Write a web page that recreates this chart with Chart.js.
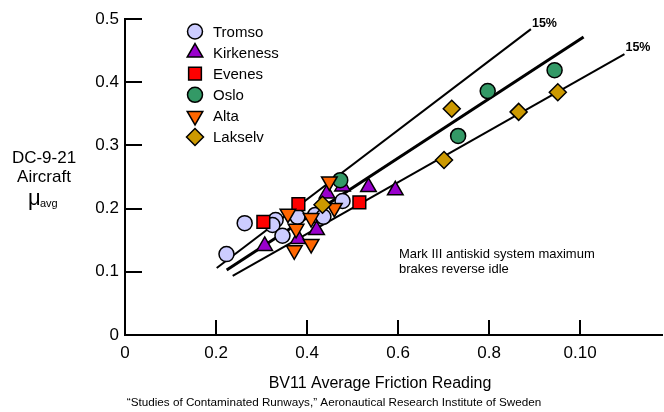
<!DOCTYPE html>
<html>
<head>
<meta charset="utf-8">
<script src="https://cdn.jsdelivr.net/npm/chart.js@4.4.1/dist/chart.umd.min.js"></script>
<style>
  html, body { margin: 0; padding: 0; background: #fff; }
</style>
</head>
<body>
<canvas id="chart" width="664" height="412"></canvas>
<script>
// values: [BV11 reading, mu avg]
const tromso = [[0.223, 0.128], [0.263, 0.177], [0.331, 0.182], [0.324, 0.174], [0.346, 0.157],
  [0.379, 0.187], [0.418, 0.190], [0.436, 0.187], [0.478, 0.212]];
const kirkeness = [[0.307, 0.141], [0.381, 0.152], [0.421, 0.166], [0.444, 0.224], [0.478, 0.235],
  [0.535, 0.234], [0.594, 0.229]];
const evenes = [[0.304, 0.179], [0.381, 0.207], [0.515, 0.210]];
const oslo = [[0.473, 0.245], [0.732, 0.315], [0.797, 0.386], [0.944, 0.419]];
const alta = [[0.358, 0.192], [0.376, 0.168], [0.409, 0.185], [0.372, 0.134], [0.409, 0.144],
  [0.449, 0.243], [0.460, 0.201]];
const lakselv = [[0.434, 0.206], [0.701, 0.277], [0.718, 0.358], [0.865, 0.353], [0.951, 0.384]];

// fitted line and the two 15% bands (end points)
const bandUpper = [[0.2015, 0.106], [0.892, 0.484]];
const fitMean = [[0.2234, 0.103], [1.0077, 0.4715]];
const bandLower = [[0.2366, 0.0934], [1.0975, 0.4446]];

const xTicks = [0, 0.2, 0.4, 0.6, 0.8, 1.0];
const xTickLabels = ['0', '0.2', '0.4', '0.6', '0.8', '0.10'];
const yTicks = [0, 0.1, 0.2, 0.3, 0.4, 0.5];
const yTickLabels = ['0', '0.1', '0.2', '0.3', '0.4', '0.5'];

const noteLines = ['Mark III antiskid system maximum', 'brakes reverse idle'];
const noteAt = [0.602, 0.127];
const source = '\u201cStudies of Contaminated Runways,\u201d Aeronautical Research Institute of Sweden';

const pts = arr => arr.map(p => ({x: p[0], y: p[1]}));

const series = [
  {label: 'Tromso', data: tromso, color: '#ccccff', style: 'circle', radius: 7.5, rotation: 0},
  {label: 'Kirkeness', data: kirkeness, color: '#9900cc', style: 'triangle', radius: 9, rotation: 0},
  {label: 'Evenes', data: evenes, color: '#ff0000', style: 'rect', radius: 9, rotation: 0},
  {label: 'Oslo', data: oslo, color: '#339966', style: 'circle', radius: 7.5, rotation: 0},
  {label: 'Alta', data: alta, color: '#ff6600', style: 'triangle', radius: 9, rotation: 180},
  {label: 'Lakselv', data: lakselv, color: '#cc9900', style: 'rectRot', radius: 8.5, rotation: 0},
];

const scatterSets = series.map((s, i) => ({
  label: s.label,
  data: pts(s.data),
  backgroundColor: s.color,
  borderColor: '#000',
  borderWidth: 1.5,
  pointStyle: s.style,
  pointRadius: s.radius,
  rotation: s.rotation,
  order: series.length - i,
}));

const lineSet = (label, data, w) => ({
  label: label,
  data: pts(data),
  showLine: true,
  borderColor: '#000',
  borderWidth: w,
  pointRadius: 0,
  order: 20,
});

const FONT = 'Arial, "Liberation Sans", sans-serif';

const decor = {
  id: 'decor',
  afterDraw(chart) {
    const ctx = chart.ctx;
    const xs = chart.scales.x, ys = chart.scales.y;
    const area = chart.chartArea;
    ctx.save();
    // inward tick marks
    ctx.strokeStyle = '#000';
    ctx.lineWidth = 2;
    ctx.beginPath();
    xTicks.slice(1).forEach(v => {
      const px = Math.round(xs.getPixelForValue(v));
      ctx.moveTo(px, area.bottom);
      ctx.lineTo(px, area.bottom - 15);
    });
    yTicks.slice(1).forEach(v => {
      const py = Math.round(ys.getPixelForValue(v));
      ctx.moveTo(area.left, py);
      ctx.lineTo(area.left + 17, py);
    });
    ctx.stroke();

    // legend
    series.forEach((s, i) => {
      const lx = 195, ly = 31.5 + i * 21.1;
      ctx.fillStyle = s.color;
      ctx.strokeStyle = '#000';
      ctx.lineWidth = 1.5;
      Chart.helpers.drawPoint(ctx, {pointStyle: s.style, radius: s.radius, rotation: s.rotation, borderWidth: 1.5}, lx, ly);
      ctx.fillStyle = '#000';
      ctx.font = '15px ' + FONT;
      ctx.textAlign = 'left';
      ctx.textBaseline = 'middle';
      ctx.fillText(s.label, 213, ly + 1);
    });

    // 15% labels at the band ends
    ctx.font = 'bold 12.5px ' + FONT;
    ctx.textBaseline = 'middle';
    [bandUpper, bandLower].forEach(b => {
      const e = b[b.length - 1];
      ctx.fillText('15%', xs.getPixelForValue(e[0]) + 1, ys.getPixelForValue(e[1]) - 6);
    });

    // note
    ctx.font = '13px ' + FONT;
    noteLines.forEach((t, i) => {
      ctx.fillText(t, xs.getPixelForValue(noteAt[0]), ys.getPixelForValue(noteAt[1]) + i * 15);
    });

    // y axis title
    ctx.textAlign = 'center';
    ctx.font = '17px ' + FONT;
    ctx.fillText('DC-9-21', 44, 158);
    ctx.fillText('Aircraft', 44, 177);
    ctx.textAlign = 'left';
    ctx.textBaseline = 'alphabetic';
    ctx.font = '22px ' + FONT;
    ctx.fillText('\u03bc', 28, 205);
    ctx.font = '11px ' + FONT;
    ctx.fillText('avg', 40, 207);

    // x axis title and source
    ctx.textAlign = 'center';
    ctx.textBaseline = 'middle';
    ctx.font = '16px ' + FONT;
    ctx.fillText('BV11 Average Friction Reading', 380, 384);
    ctx.font = '11.7px ' + FONT;
    ctx.fillText(source, 334, 403);
    ctx.restore();
  }
};

new Chart(document.getElementById('chart'), {
  type: 'scatter',
  data: {
    datasets: scatterSets.concat([
      lineSet('upper 15%', bandUpper, 2),
      lineSet('fit', fitMean, 3),
      lineSet('lower 15%', bandLower, 2),
    ])
  },
  options: {
    responsive: false,
    animation: false,
    layout: {autoPadding: false, padding: {top: 19, right: 2, left: 0, bottom: 0}},
    plugins: {legend: {display: false}, tooltip: {enabled: false}},
    scales: {
      x: {
        type: 'linear',
        min: 0,
        max: 1.18,
        afterBuildTicks: s => { s.ticks = xTicks.map(v => ({value: v})); },
        afterFit: s => { s.height = 77; s.paddingLeft = 0; s.paddingRight = 0; },
        grid: {display: false, drawTicks: false},
        border: {display: true, color: '#000', width: 2},
        ticks: {
          color: '#000',
          font: {family: FONT, size: 17},
          padding: 8,
          maxRotation: 0,
          callback: (v, i) => xTickLabels[i],
        },
      },
      y: {
        type: 'linear',
        min: 0,
        max: 0.5,
        afterBuildTicks: s => { s.ticks = yTicks.map(v => ({value: v})); },
        afterFit: s => { s.width = 125; s.paddingTop = 0; s.paddingBottom = 0; },
        grid: {display: false, drawTicks: false},
        border: {display: true, color: '#000', width: 2},
        ticks: {
          color: '#000',
          font: {family: FONT, size: 17},
          padding: 6,
          callback: (v, i) => yTickLabels[i],
        },
      },
    },
  },
  plugins: [decor],
});
</script>
</body>
</html>
